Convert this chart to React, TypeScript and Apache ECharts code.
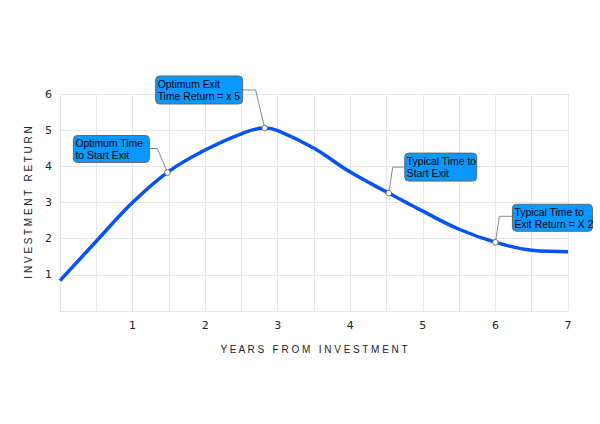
import React, { useEffect, useRef } from "react";
import * as echarts from "echarts";

const YEARS = [0, 0.5, 1, 1.5, 2, 2.5, 2.82, 3.0, 3.5, 4, 4.53, 5, 5.5, 6, 6.5, 7];
const RETURNS = [0.84, 1.93, 3.0, 3.86, 4.45, 4.9, 5.06, 4.99, 4.5, 3.84, 3.26, 2.76, 2.26, 1.9, 1.68, 1.64];

const ANNOTATION_X = [1.48, 2.82, 4.53, 6];
const ANNOTATION_Y = [3.83, 5.06, 3.26, 1.9];
const ANNOTATION_TEXTS = [
  "Optimum Time\nto Start Exit",
  "Optimum Exit\nTime Return = x 5",
  "Typical Time to\nStart Exit",
  "Typical Time to\nExit Return = X 2",
];

const X_TITLE = "Y E A R S   F R O M   I N V E S T M E N T";
const Y_TITLE = "I N V E S T M E N T   R E T U R N";

// box layout relative to annotated point: [dx, dy, w, h, anchorX, anchorY, elbowX]
const ANN_LAYOUT = [
  [-94, -37, 76, 27, -18, -24, -10],
  [-109, -52, 87, 28, -22, -38, -9],
  [16, -40, 72, 28, 16, -26, 4],
  [17, -38, 80, 27, 17, -26, 4],
];

export default function App() {
  const ref = useRef<HTMLDivElement>(null);
  useEffect(() => {
    document.body.style.margin = "0";
    const chart = echarts.init(ref.current!, null, { renderer: "svg" });
    const lineData = YEARS.map((x, i) => [x, RETURNS[i]]);
    const annData = ANNOTATION_X.map((x, i) => [x, ANNOTATION_Y[i], i]);
    chart.setOption({
      animation: false,
      backgroundColor: "#fff",
      grid: { left: 60, right: 32, top: 94, bottom: 113 },
      xAxis: {
        type: "value",
        min: 0,
        max: 7,
        interval: 0.5,
        name: X_TITLE,
        nameLocation: "middle",
        nameGap: 33,
        nameTextStyle: { fontFamily: "Liberation Sans", fontSize: 10, color: "#222" },
        axisLine: { show: false },
        axisTick: { show: false },
        axisLabel: {
          margin: 9,
          fontFamily: "DejaVu Sans",
          fontSize: 11,
          color: "#222",
          formatter: (v: number) => (Number.isInteger(v) && v > 0 ? String(v) : ""),
        },
        splitLine: { show: true, lineStyle: { color: "#e6e6e6", width: 1 } },
      },
      yAxis: {
        type: "value",
        min: 0,
        max: 6,
        interval: 1,
        name: Y_TITLE,
        nameLocation: "middle",
        nameGap: 27,
        nameRotate: 90,
        nameTextStyle: { fontFamily: "Liberation Sans", fontSize: 10, color: "#222" },
        axisLine: { show: false },
        axisTick: { show: false },
        axisLabel: {
          margin: 8,
          fontFamily: "DejaVu Sans",
          fontSize: 11,
          color: "#222",
          formatter: (v: number) => (v > 0 ? String(v) : ""),
        },
        splitLine: { show: true, lineStyle: { color: "#e6e6e6", width: 1 } },
      },
      series: [
        {
          type: "line",
          data: lineData,
          smooth: 0.4,
          showSymbol: false,
          lineStyle: { color: "#0652f2", width: 3.5 },
          z: 2,
        },
        {
          type: "custom",
          data: annData,
          clip: false,
          z: 5,
          renderItem: (params: any, api: any) => {
            const p = api.coord([api.value(0), api.value(1)]);
            const L = ANN_LAYOUT[params.dataIndex];
            const [dx, dy, w, h, ax, ay, ex] = L;
            const text = ANNOTATION_TEXTS[params.dataIndex];
            return {
              type: "group",
              children: [
                {
                  type: "polyline",
                  shape: {
                    points: [
                      [p[0] + ax, p[1] + ay],
                      [p[0] + ex, p[1] + ay],
                      [p[0], p[1]],
                    ],
                  },
                  style: { stroke: "#888", lineWidth: 1, fill: null },
                },
                {
                  type: "rect",
                  shape: { x: p[0] + dx, y: p[1] + dy, width: w, height: h, r: 4 },
                  style: { fill: "#0a98ff", stroke: "#666", lineWidth: 1 },
                },
                {
                  type: "text",
                  x: p[0] + dx + 2,
                  y: p[1] + dy + h / 2 + 0.5,
                  style: {
                    text,
                    fill: "#000",
                    fontFamily: "Liberation Sans",
                    fontSize: 10.4,
                    lineHeight: 12,
                    align: "left",
                    verticalAlign: "middle",
                  },
                },
                {
                  type: "circle",
                  shape: { cx: p[0], cy: p[1], r: 2.8 },
                  style: { fill: "#fff", stroke: "#666", lineWidth: 1 },
                },
              ],
            };
          },
        },
      ],
    });
    return () => chart.dispose();
  }, []);
  return <div ref={ref} style={{ width: 600, height: 424 }} />;
}
